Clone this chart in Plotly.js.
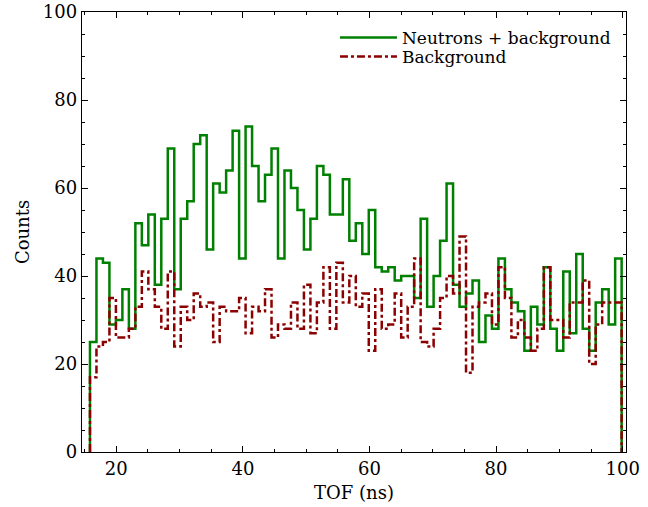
<!DOCTYPE html>
<html>
<head>
<meta charset="utf-8">
<script src="https://cdn.plot.ly/plotly-3.0.1.min.js"></script>
<style>
  html, body { margin: 0; padding: 0; background: #ffffff; }
  #chart { width: 648px; height: 507px; }
</style>
</head>
<body>
<div id="chart"></div>
<script>
// Histogram binning (TOF, ns)
const binStart = 15.84;
const binEnd = 99.84;

// Counts per bin: neutrons + background
const neutronsPlusBackground = [
  25, 44, 43, 29, 30, 37, 28, 52, 47, 54,
  38, 53, 69, 37, 53, 57, 70, 72, 46, 61,
  59, 64, 73, 44, 74, 65, 57, 63, 69, 44,
  64, 60, 55, 46, 53, 65, 63, 54, 54, 62,
  48, 52, 45, 55, 42, 41, 42, 39, 40, 40,
  35, 53, 33, 40, 48, 61, 38, 33, 36, 39,
  25, 31, 28, 44, 37, 34, 32, 23, 33, 29,
  42, 28, 23, 41, 27, 45, 28, 23, 34, 37,
  29, 44
];

// Counts per bin: background only
const background = [
  17, 24, 25, 35, 26, 26, 28, 33, 41, 37,
  33, 28, 41, 24, 33, 30, 36, 33, 34, 25,
  33, 32, 32, 35, 27, 33, 32, 37, 26, 29,
  28, 34, 28, 38, 27, 34, 42, 28, 43, 34,
  40, 33, 36, 23, 37, 28, 29, 36, 26, 33,
  44, 25, 24, 28, 35, 40, 36, 49, 18, 33,
  34, 36, 29, 42, 35, 26, 30, 26, 23, 28,
  42, 30, 30, 26, 34, 34, 39, 20, 29, 34,
  34, 34
];

const seriesNames = ["Neutrons + background", "Background"];
const xTitle = "TOF (ns)";
const yTitle = "Counts";

function stepXY(values) {
  const n = values.length;
  const w = (binEnd - binStart) / n;
  const xs = [binStart];
  const ys = [0];
  for (let i = 0; i < n; i++) {
    xs.push(binStart + i * w);
    ys.push(values[i]);
  }
  xs.push(binEnd); ys.push(values[n - 1]);
  xs.push(binEnd); ys.push(0);
  return {x: xs, y: ys};
}

const s1 = stepXY(neutronsPlusBackground);
const s2 = stepXY(background);

const font = "DejaVu Serif";

const traces = [
  {
    type: "scatter", mode: "lines", name: seriesNames[0], legend: "legend",
    x: s1.x, y: s1.y,
    line: {shape: "hv", color: "#008000", width: 2.5}
  },
  {
    type: "scatter", mode: "lines", name: seriesNames[1], legend: "legend2",
    x: s2.x, y: s2.y,
    line: {shape: "hv", color: "#8b0000", width: 2.5, dash: "8px,3px,3px,3px"}
  }
];

const axisCommon = {
  showgrid: false, zeroline: false,
  showline: true, linecolor: "#000", linewidth: 1.3,
  mirror: "allticks",
  ticks: "inside", ticklen: 6, tickwidth: 1, tickcolor: "#000",
  tickfont: {family: font, size: 18, color: "#000"}
};

const legendCommon = {
  xanchor: "left", yanchor: "middle",
  bgcolor: "rgba(0,0,0,0)",
  font: {family: font, size: 17, color: "#000"},
  itemwidth: 57
};

const layout = {
  width: 648, height: 507,
  margin: {l: 82, r: 22, t: 12, b: 55},
  paper_bgcolor: "#fff", plot_bgcolor: "#fff",
  showlegend: true,
  legend: Object.assign({}, legendCommon, {x: 0.465, y: 0.941}),
  legend2: Object.assign({}, legendCommon, {x: 0.465, y: 0.898}),
  xaxis: Object.assign({}, axisCommon, {
    range: [14.58, 100.53],
    tickvals: [20, 40, 60, 80, 100],
    minor: {ticks: "inside", dtick: 5, tick0: 0, ticklen: 3, tickcolor: "#000"},
    title: {text: xTitle, font: {family: font, size: 18, color: "#000"}, standoff: 8}
  }),
  yaxis: Object.assign({}, axisCommon, {
    range: [0, 100],
    tickvals: [0, 20, 40, 60, 80, 100],
    minor: {ticks: "inside", dtick: 5, tick0: 0, ticklen: 3, tickcolor: "#000"},
    title: {text: yTitle, font: {family: font, size: 18, color: "#000"}, standoff: 8}
  })
};

Plotly.newPlot("chart", traces, layout, {staticPlot: true, displayModeBar: false});
</script>
</body>
</html>
